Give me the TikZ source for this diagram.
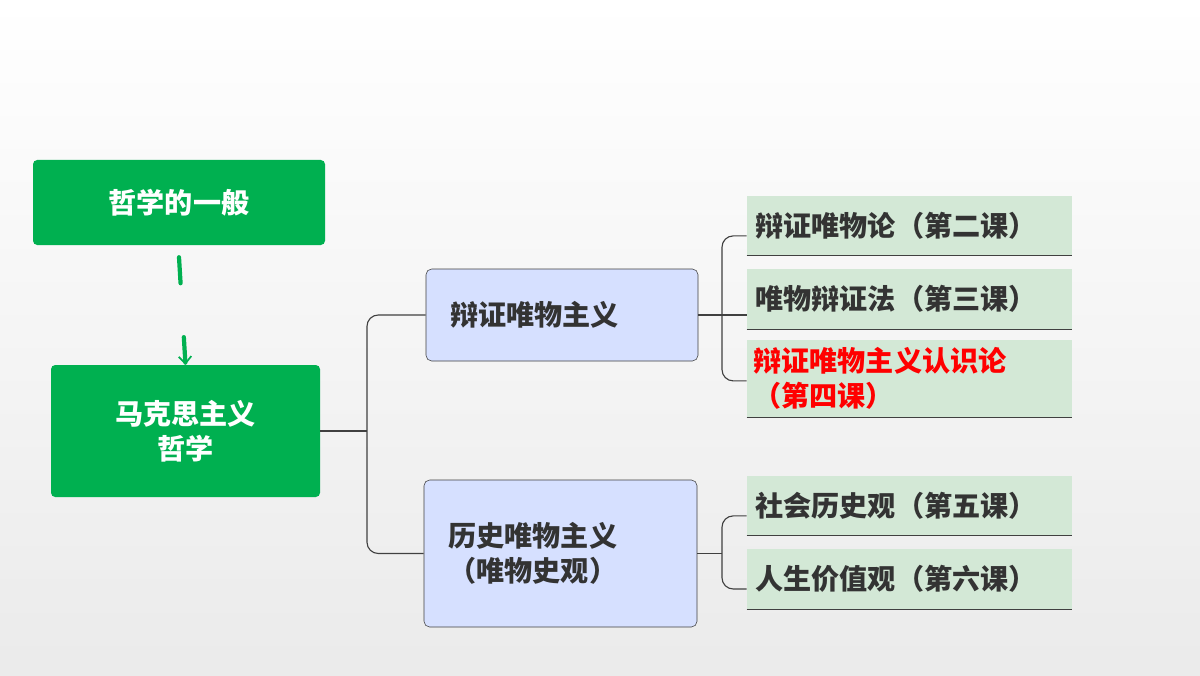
\documentclass[tikz,border=0pt]{standalone}
\usepackage{fontspec}
\setmainfont{Noto Sans CJK SC}
\usepackage{tikz}
\usetikzlibrary{arrows.meta,positioning}
\definecolor{hgreen}{HTML}{00B050}
\definecolor{hblue}{HTML}{D6E0FF}
\definecolor{hmint}{HTML}{D3E8D6}
\definecolor{htext}{HTML}{333333}
\definecolor{hline}{HTML}{404040}
\begin{document}
\begin{tikzpicture}[
    font=\fontsize{20}{25}\selectfont\bfseries,
    green box/.style={rectangle,rounded corners=3pt,fill=hgreen,text=white,align=center},
    blue box/.style={rectangle,rounded corners=4pt,draw=hline,fill=hblue,text=htext,align=left},
    lesson/.style={rectangle,fill=hmint,text=htext,minimum width=8.125cm,text width=7.7cm,align=left,inner sep=0pt},
    link/.style={hline,line width=0.8pt,rounded corners=8pt}
]
    \shade[top color=white,bottom color=black!8] (0,0) rectangle (30,16.875);
    \useasboundingbox (0,0) rectangle (30,16.875);
    % left column
    \node[green box,minimum width=7.3cm,minimum height=2.125cm] (general) at (4.475,11.8125) {哲学的一般};
    \node[green box,minimum width=6.725cm,minimum height=3.3cm] (marx) at (4.6375,6.1) {马克思主义\\哲学};
    \draw[hgreen,line width=3pt,line cap=round,dash pattern=on 0.65cm off 1.35cm,-{Straight Barb[length=5pt,width=9pt,line width=1.2pt]}]
        ([yshift=-0.3cm]general.south) -- (marx.north);
    % middle column
    \node[blue box,minimum width=6.8cm,minimum height=2.3cm,text width=5.6cm] (dialectic) at (14.05,9.0) {辩证唯物主义};
    \node[blue box,minimum width=6.825cm,minimum height=3.675cm,text width=5.6cm] (history) at (14.0125,3.0375) {历史唯物主义\\（唯物史观）};
    % right column
    \node[lesson,minimum height=1.475cm] (l2) at (22.7375,11.2375) {辩证唯物论（第二课）};
    \node[lesson,minimum height=1.5cm] (l3) at (22.7375,9.4) {唯物辩证法（第三课）};
    \node[lesson,minimum height=1.925cm,text=red,text width=7.8cm] (l4) at (22.7375,7.4125) {辩证唯物主义认识论\\（第四课）};
    \node[lesson,minimum height=1.475cm] (l5) at (22.7375,4.2375) {社会历史观（第五课）};
    \node[lesson,minimum height=1.5cm] (l6) at (22.7375,2.4) {人生价值观（第六课）};
    \foreach \n in {l2,l3,l4,l5,l6}
        \draw[hline,line width=0.8pt] (\n.south west) -- (\n.south east);
    % connectors
    \coordinate (jmarx) at (9.175,6.1);
    \coordinate (jdia) at (18.05,9.0);
    \coordinate (jhis) at (18.05,3.0375);
    \draw[link] (marx.east) -- (jmarx);
    \draw[link] (dialectic.west) -| (jmarx) |- (history.west);
    \draw[link] (dialectic.east) -- (dialectic.east -| l3.west);
    \draw[link] ([yshift=-0.26cm]l2.west) -| (jdia) |- ([yshift=-0.06cm]l4.west);
    \draw[link] (history.east) -- (jhis);
    \draw[link] ([yshift=-0.26cm]l5.west) -| (jhis) |- ([yshift=-0.25cm]l6.west);
\end{tikzpicture}
\end{document}
